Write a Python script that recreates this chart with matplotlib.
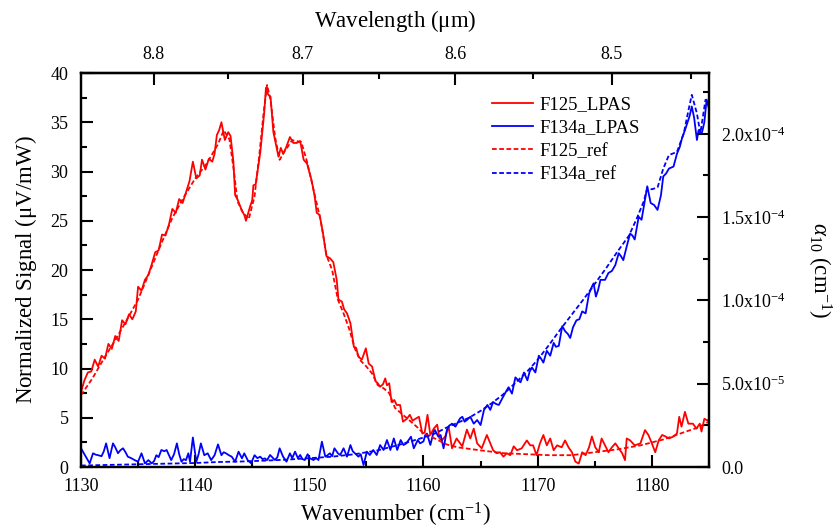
import matplotlib
matplotlib.use('Agg')
import matplotlib.pyplot as plt
import numpy as np
from matplotlib.ticker import MultipleLocator, FixedLocator

# F125 LPAS signal (uV/mW)
wn_f125 = [1130.0, 1130.3, 1130.6, 1130.9, 1131.2, 1131.5, 1131.8, 1132.1, 1132.4, 1132.7,
           1133.0, 1133.3, 1133.6, 1133.9, 1134.2, 1134.5, 1134.8, 1135.0, 1135.3, 1135.6,
           1135.9, 1136.2, 1136.5, 1136.8, 1137.1, 1137.4, 1137.7, 1138.0, 1138.3, 1138.6,
           1138.9, 1139.2, 1139.5, 1139.8, 1140.1, 1140.4, 1140.6, 1140.9, 1141.2, 1141.5,
           1141.7, 1141.9, 1142.1, 1142.3, 1142.6, 1142.9, 1143.1, 1143.35, 1143.5, 1143.7,
           1143.9, 1144.1, 1144.3, 1144.45, 1144.6, 1144.8, 1145.0, 1145.1, 1145.3, 1145.5,
           1145.7, 1145.9, 1146.05, 1146.2, 1146.4, 1146.6, 1146.85, 1147.1, 1147.3, 1147.5,
           1147.7, 1147.95, 1148.3, 1148.6, 1148.9, 1149.2, 1149.5, 1149.8, 1150.2, 1150.45,
           1150.65, 1150.9, 1151.2, 1151.5, 1151.8, 1152.1, 1152.4, 1152.55, 1152.85, 1153.05,
           1153.3, 1153.6, 1153.9, 1154.1, 1154.3, 1154.6, 1154.95, 1155.2, 1155.5, 1155.8,
           1156.0, 1156.2, 1156.45, 1156.65, 1156.8, 1157.0, 1157.2, 1157.45, 1157.65, 1157.95,
           1158.2, 1158.55, 1158.8, 1159.05, 1159.3, 1159.6, 1159.9, 1160.1, 1160.35, 1160.6,
           1160.9, 1161.2, 1161.4, 1161.6, 1161.9, 1162.2, 1162.5, 1162.9, 1163.4, 1163.8,
           1164.1, 1164.4, 1164.7, 1165.1, 1165.55, 1165.85, 1166.1, 1166.4, 1166.7, 1167.0,
           1167.3, 1167.6, 1167.9, 1168.2, 1168.6, 1169.05, 1169.35, 1169.6, 1169.9, 1170.2,
           1170.5, 1170.8, 1171.1, 1171.4, 1171.7, 1172.1, 1172.4, 1172.7, 1173.0, 1173.3,
           1173.6, 1173.9, 1174.2, 1174.5, 1174.75, 1175.05, 1175.35, 1175.6, 1175.9, 1176.2,
           1176.5, 1176.8, 1177.1, 1177.4, 1177.65, 1177.8, 1178.1, 1178.5, 1179.0, 1179.4,
           1179.7, 1180.0, 1180.3, 1180.6, 1180.9, 1181.2, 1181.5, 1181.9, 1182.2, 1182.4,
           1182.6, 1182.9, 1183.2, 1183.6, 1183.9, 1184.2, 1184.35, 1184.6, 1184.9, 1185.0]
sig_f125 = [7.6, 8.8, 9.6, 9.7, 10.9, 10.2, 11.3, 11.0, 12.5, 12.0,
            13.3, 12.8, 14.9, 14.5, 15.5, 15.0, 15.8, 18.3, 17.9, 19.0,
            19.5, 20.6, 21.8, 22.0, 23.6, 23.5, 24.6, 26.2, 25.8, 27.2,
            26.8, 27.9, 29.0, 31.0, 29.3, 29.6, 31.2, 30.2, 31.3, 31.0,
            31.8, 33.7, 34.2, 35.0, 33.2, 34.0, 33.6, 31.0, 27.6, 27.2,
            26.6, 26.0, 25.6, 25.0, 25.6, 26.4, 27.1, 28.6, 28.7, 30.3,
            31.9, 34.3, 36.0, 38.5, 37.8, 37.6, 34.0, 32.6, 31.5, 32.4,
            31.8, 32.4, 33.5, 32.9, 32.9, 33.1, 31.2, 30.8, 29.1, 27.6,
            25.8, 25.6, 23.7, 21.4, 21.2, 20.8, 19.0, 17.0, 16.8, 16.0,
            15.6, 14.6, 12.2, 12.1, 11.2, 10.9, 12.05, 10.5, 10.2, 8.7,
            8.5, 8.15, 8.4, 9.0, 8.3, 8.5, 6.6, 6.8, 6.3, 6.3,
            4.6, 4.9, 5.3, 4.7, 4.9, 5.1, 3.4, 3.5, 5.3, 3.25,
            3.9, 4.3, 2.9, 2.7, 3.1, 4.1, 1.9, 2.9, 2.1, 3.8,
            2.9, 3.9, 2.4, 1.9, 3.25, 2.4, 1.7, 1.4, 1.5, 1.05,
            1.4, 1.2, 2.1, 1.7, 1.9, 2.7, 2.2, 2.2, 1.2, 2.4,
            3.25, 2.2, 2.9, 1.7, 2.2, 2.0, 2.7, 2.0, 1.5, 0.55,
            0.35, 1.5, 1.2, 2.0, 3.1, 2.0, 1.5, 2.9, 2.2, 1.5,
            2.0, 2.4, 1.9, 1.4, 0.7, 2.9, 2.7, 2.2, 2.4, 3.75,
            3.25, 2.4, 1.5, 2.7, 3.25, 3.1, 2.9, 3.1, 3.4, 5.1,
            4.1, 5.6, 4.4, 4.4, 3.9, 4.4, 3.6, 4.9, 4.7, 4.9]

# F134a LPAS signal (uV/mW)
wn_f134 = [1130.0, 1130.25, 1130.5, 1130.76, 1131.05, 1131.3, 1131.5, 1131.8, 1132.0, 1132.2,
           1132.5, 1132.8, 1133.0, 1133.24, 1133.45, 1133.68, 1133.9, 1134.1, 1134.4, 1134.7,
           1135.0, 1135.3, 1135.6, 1135.9, 1136.2, 1136.4, 1136.6, 1136.8, 1137.04, 1137.3,
           1137.5, 1137.9, 1138.15, 1138.4, 1138.6, 1138.8, 1139.0, 1139.2, 1139.4, 1139.55,
           1139.8, 1140.1, 1140.3, 1140.5, 1140.8, 1141.1, 1141.4, 1141.7, 1142.0, 1142.3,
           1142.5, 1142.7, 1142.95, 1143.2, 1143.5, 1143.8, 1144.1, 1144.3, 1144.6, 1144.9,
           1145.2, 1145.45, 1145.7, 1145.9, 1146.1, 1146.3, 1146.56, 1146.99, 1147.2, 1147.4,
           1147.7, 1148.0, 1148.3, 1148.5, 1148.75, 1149.0, 1149.2, 1149.4, 1149.6, 1149.85,
           1150.06, 1150.36, 1150.6, 1150.8, 1151.1, 1151.4, 1151.6, 1151.8, 1152.0, 1152.2,
           1152.5, 1152.7, 1153.0, 1153.3, 1153.6, 1153.8, 1154.0, 1154.3, 1154.5, 1154.75,
           1155.04, 1155.3, 1155.6, 1155.9, 1156.2, 1156.5, 1156.8, 1157.1, 1157.4, 1157.7,
           1158.0, 1158.25, 1158.5, 1158.9, 1159.15, 1159.5, 1159.7, 1160.0, 1160.15, 1160.3,
           1160.6, 1160.9, 1161.0, 1161.3, 1161.5, 1161.76, 1162.05, 1162.25, 1162.5, 1162.8,
           1163.2, 1163.4, 1163.6, 1163.8, 1164.1, 1164.4, 1164.7, 1165.0, 1165.3, 1165.6,
           1165.85, 1166.1, 1166.35, 1166.6, 1166.9, 1167.2, 1167.45, 1167.75, 1168.05, 1168.3,
           1168.5, 1168.8, 1169.1, 1169.3, 1169.5, 1169.8, 1170.1, 1170.3, 1170.5, 1170.8,
           1171.1, 1171.4, 1171.6, 1171.85, 1172.15, 1172.4, 1172.65, 1172.85, 1173.1, 1173.4,
           1173.65, 1173.9, 1174.2, 1174.5, 1174.75, 1174.9, 1175.1, 1175.3, 1175.5, 1175.9,
           1176.2, 1176.5, 1176.8, 1177.1, 1177.3, 1177.5, 1177.8, 1178.1, 1178.3, 1178.5,
           1178.85, 1179.1, 1179.35, 1179.6, 1179.9, 1180.2, 1180.5, 1180.8, 1181.0, 1181.25,
           1181.5, 1181.9, 1182.2, 1182.45, 1182.65, 1182.9, 1183.1, 1183.3, 1183.5, 1183.7,
           1183.95, 1184.1, 1184.25, 1184.4, 1184.6, 1184.8, 1185.0]
sig_f134 = [1.9, 1.4, 0.88, 0.37, 1.39, 1.25, 1.2, 1.1, 1.6, 2.4,
            0.9, 2.4, 2.0, 1.4, 1.7, 1.9, 1.5, 1.05, 0.9, 0.7,
            0.54, 1.39, 0.37, 0.7, 0.37, 0.6, 1.2, 1.0, 1.73, 1.6,
            1.73, 0.7, 1.3, 2.4, 1.3, 0.54, 0.8, 0.7, 1.39, 0.54,
            3.0, 0.54, 1.3, 2.4, 1.2, 1.39, 0.7, 1.2, 2.3, 1.2,
            1.5, 1.39, 1.2, 1.05, 0.54, 1.56, 0.88, 1.39, 0.7, 0.37,
            1.2, 0.9, 1.05, 0.8, 0.88, 0.7, 1.22, 0.71, 1.0, 1.9,
            1.05, 0.54, 1.39, 0.9, 1.56, 0.9, 1.22, 0.8, 0.71, 1.3,
            0.88, 0.71, 0.9, 0.71, 2.57, 1.05, 1.2, 1.39, 1.1, 1.9,
            1.4, 1.22, 1.9, 1.05, 2.23, 1.6, 1.39, 1.05, 1.3, 0.2,
            1.56, 1.22, 1.73, 1.22, 2.23, 1.73, 2.74, 1.73, 2.9, 1.73,
            2.74, 2.23, 2.4, 3.08, 1.9, 2.74, 2.4, 2.6, 3.25, 3.4,
            2.24, 3.6, 3.76, 3.08, 3.25, 1.9, 3.76, 4.2, 4.4, 4.1,
            4.94, 5.1, 4.6, 4.77, 5.1, 4.4, 4.77, 4.26, 5.8, 6.3,
            5.8, 6.6, 6.4, 6.3, 6.97, 7.6, 8.1, 7.45, 9.1, 8.8,
            8.6, 9.6, 8.8, 9.7, 10.1, 9.6, 11.3, 11.0, 10.6, 11.8,
            11.3, 12.6, 12.2, 12.3, 14.3, 13.8, 13.5, 13.1, 14.2, 14.9,
            15.0, 15.8, 15.6, 17.6, 18.3, 18.65, 17.3, 18.0, 19.0, 19.0,
            19.7, 19.9, 20.5, 21.7, 21.4, 21.0, 22.4, 23.7, 23.5, 23.1,
            25.4, 25.1, 26.8, 28.5, 26.8, 26.6, 26.1, 27.6, 29.5, 29.8,
            30.3, 30.5, 31.8, 32.5, 33.4, 34.2, 34.9, 35.6, 36.6, 35.5,
            33.2, 34.2, 33.9, 34.0, 35.0, 37.3, 36.4]

# reference absorption coefficients, in units of 1e-5 cm-1
wn_f125_ref = [1130, 1131, 1132, 1133, 1134, 1135, 1136, 1137, 1138, 1139,
               1140, 1141, 1142, 1142.5, 1143, 1143.4, 1143.7, 1144.2, 1144.7, 1145.2,
               1145.6, 1146.0, 1146.3, 1146.6, 1147.0, 1147.4, 1147.8, 1148.5, 1149.3, 1149.8,
               1150.5, 1151.0, 1151.5, 1152.0, 1152.5, 1153.0, 1153.5, 1154.0, 1154.5, 1155.0,
               1155.5, 1156.0, 1156.5, 1157.0, 1157.5, 1158.0, 1158.5, 1159.0, 1159.5, 1160,
               1161, 1162, 1163, 1165, 1167, 1169, 1171, 1173, 1175, 1177,
               1179, 1181, 1182, 1183, 1184, 1185]
alpha_f125_ref = [4.31, 5.32, 6.50, 7.62, 8.81, 10.05, 11.70, 13.36, 14.95, 16.19,
                  17.32, 18.20, 19.38, 20.21, 19.68, 17.73, 15.96, 15.25, 14.89, 16.25,
                  18.62, 21.28, 22.93, 22.04, 19.80, 18.44, 18.91, 19.62, 19.50, 18.32,
                  16.25, 14.78, 12.71, 11.82, 10.05, 9.22, 8.27, 7.09, 6.38, 6.03,
                  5.61, 4.91, 4.73, 4.43, 3.55, 3.25, 2.96, 2.66, 2.36, 2.01,
                  1.71, 1.36, 1.18, 1.00, 0.83, 0.77, 0.71, 0.71, 0.89, 1.06,
                  1.30, 1.65, 1.89, 2.13, 2.36, 2.72]

wn_f134_ref = [1130, 1132, 1134, 1136, 1138, 1140, 1142, 1144, 1146, 1148,
               1150, 1152, 1154, 1156, 1158, 1160, 1161, 1162, 1163, 1164,
               1165, 1166, 1167, 1168, 1169, 1170, 1171, 1172, 1173, 1174,
               1175, 1176, 1177, 1178, 1178.7, 1179.3, 1179.6, 1180.0, 1180.5, 1181.0,
               1181.5, 1182.2, 1182.8, 1183.2, 1183.5, 1183.95, 1184.25, 1184.7, 1185.0]
alpha_f134_ref = [0.09, 0.12, 0.15, 0.18, 0.21, 0.24, 0.30, 0.33, 0.38, 0.44,
                  0.53, 0.62, 0.77, 1.00, 1.36, 1.77, 2.01, 2.36, 2.66, 2.96,
                  3.37, 3.84, 4.37, 5.02, 5.67, 6.44, 7.33, 8.27, 9.16, 10.05,
                  10.99, 11.94, 12.94, 13.89, 14.95, 15.96, 16.73, 16.67, 16.78, 17.91,
                  18.73, 18.91, 20.03, 21.39, 22.34, 21.22, 20.03, 22.04, 21.81]

plt.rcParams['font.family'] = ['Liberation Serif', 'DejaVu Serif']
plt.rcParams['mathtext.fontset'] = 'custom'
plt.rcParams['mathtext.rm'] = 'Liberation Serif'
plt.rcParams['mathtext.it'] = 'Liberation Serif:italic'

fig = plt.figure(figsize=(8.35, 5.31), dpi=100)
ax = fig.add_axes([0.097, 0.1205, 0.752, 0.742])
ax2 = ax.twinx()

lw = 1.3
dash = (0, (2.6, 1.4))
l1, = ax.plot(wn_f125, sig_f125, color='#ff0000', lw=lw, label='F125_LPAS')
l2, = ax.plot(wn_f134, sig_f134, color='#0000ff', lw=lw, label='F134a_LPAS')
l3, = ax2.plot(wn_f125_ref, np.array(alpha_f125_ref) * 1e-5, color='#ff0000', lw=lw,
               ls=dash, label='F125_ref')
l4, = ax2.plot(wn_f134_ref, np.array(alpha_f134_ref) * 1e-5, color='#0000ff', lw=lw,
               ls=dash, label='F134a_ref')

ax.set_xlim(1130, 1185)
ax.set_ylim(0, 40)
ax2.set_ylim(0, 2.365e-4)

ax.xaxis.set_major_locator(MultipleLocator(10))
ax.xaxis.set_minor_locator(MultipleLocator(5))
ax.yaxis.set_major_locator(MultipleLocator(5))
ax.yaxis.set_minor_locator(MultipleLocator(2.5))
ax2.yaxis.set_major_locator(FixedLocator([0, 5e-5, 1e-4, 1.5e-4, 2e-4]))
ax2.yaxis.set_minor_locator(FixedLocator([2.5e-5, 7.5e-5, 1.25e-4, 1.75e-4, 2.25e-4]))
ax2.set_yticklabels(['0.0', r'5.0x10$^{\mathregular{-5}}$', r'1.0x10$^{\mathregular{-4}}$',
                     r'1.5x10$^{\mathregular{-4}}$', r'2.0x10$^{\mathregular{-4}}$'])

for a in (ax, ax2):
    for s in a.spines.values():
        s.set_linewidth(1.6)
ax.tick_params(which='both', direction='in', width=1.5, labelsize=13, top=False, right=False)
ax.tick_params(which='major', length=8.5)
ax.tick_params(which='minor', length=4.5)
ax.tick_params(axis='x', pad=8)
ax.tick_params(axis='y', pad=9)
ax2.tick_params(which='both', direction='in', width=1.5, labelsize=13)
ax2.tick_params(which='major', length=8.5, pad=9)
ax2.tick_params(which='minor', length=4.5)

# top axis: wavelength in um
top = ax.secondary_xaxis('top', functions=(lambda x: 1e4 / x, lambda x: 1e4 / x))
top.xaxis.set_major_locator(FixedLocator([8.8, 8.7, 8.6, 8.5]))
top.xaxis.set_minor_locator(FixedLocator([8.75, 8.65, 8.55, 8.45]))
top.tick_params(which='both', direction='in', width=1.5, labelsize=13)
top.tick_params(which='major', length=8.5, pad=7)
top.tick_params(which='minor', length=4.5)
top.spines['top'].set_linewidth(1.6)
top.set_xlabel(r'Wavelength ($\mathregular{\mu}$m)', fontsize=16.5, labelpad=14)

ax.set_xlabel(r'Wavenumber (cm$^{\mathregular{-1}}$)', fontsize=16.5, labelpad=4)
ax.set_ylabel(r'Normalized Signal ($\mathregular{\mu}$V/mW)', fontsize=16.5, labelpad=8)
ax2.set_ylabel(r'$\alpha_{\mathregular{10}}$ (cm$^{\mathregular{-1}}$)', fontsize=16.5,
               rotation=270, labelpad=34)

ax.legend(handles=[l1, l2, l3, l4], loc='upper left', bbox_to_anchor=(0.64, 0.965),
          frameon=False, fontsize=13.5, handlelength=2.2, handletextpad=0.3,
          labelspacing=0.33, borderpad=0)

fig.savefig('out.png', dpi=100)
